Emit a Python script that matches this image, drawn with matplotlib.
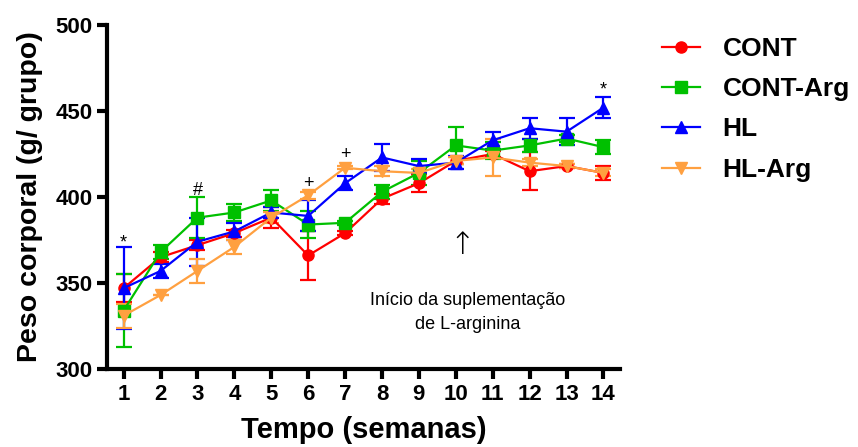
import numpy as np
import matplotlib.pyplot as plt
from matplotlib.lines import Line2D

plt.rcParams['font.family'] = ['Liberation Sans', 'DejaVu Sans']

semanas = np.arange(1, 15)

cont = [347, 365, 372, 379, 388, 366, 379, 399, 408, 421, 425, 415, 418, 414]
cont_err = [8, 3, 3, 2, 6, 14, 1, 3, 5, 2, 2, 11, 1, 4]

cont_arg = [334, 368, 388, 391, 398, 384, 385, 403, 414, 430, 427, 430, 434, 429]
cont_arg_err = [21, 4, 12, 5, 6, 8, 1, 4, 7, 11, 5, 4, 2, 4]

hl = [347, 357, 374, 380, 391, 389, 408, 423, 418, 420, 433, 440, 438, 452]
hl_err = [24, 4, 14, 5, 3, 9, 4, 8, 4, 4, 5, 6, 8, 6]

hl_arg = [331, 343, 357, 371, 388, 401, 417, 415, 414, 421, 423, 420, 418, 414]
hl_arg_err = [7, 0, 7, 4, 3, 2, 1, 3, 2, 2, 11, 2, 1, 2]

series = [
    ("CONT", cont, cont_err, "#FF0000", "o"),
    ("CONT-Arg", cont_arg, cont_arg_err, "#00C000", "s"),
    ("HL", hl, hl_err, "#0000FF", "^"),
    ("HL-Arg", hl_arg, hl_arg_err, "#FFA040", "v"),
]

# marcas de significancia
marcas = [(1, 373, "*"), (3, 404, "#"), (6, 408, "+"), (7, 425, "+"), (14, 462, "*")]

fig = plt.figure(figsize=(8.58, 4.47), dpi=100)
ax = fig.add_axes([0.1247, 0.1745, 0.598, 0.7695])

handles = []
for nome, y, e, cor, mk in series:
    ax.errorbar(semanas, y, yerr=e, color=cor, marker=mk, markersize=8,
                linewidth=1.6, elinewidth=1.6, capsize=6, capthick=1.6)
    handles.append(Line2D([], [], color=cor, marker=mk, markersize=8,
                          linewidth=1.6, label=nome))

for x, y, s in marcas:
    ax.text(x, y, s, ha="center", va="center", fontsize=13)

ax.text(10.16, 372, "↑", ha="center", va="center", fontsize=22,
        family=['DejaVu Sans'], fontweight="light")
ax.text(10.33, 333, "Início da suplementação\nde L-arginina", ha="center",
        va="center", fontsize=13, linespacing=1.55)

ax.set_xlim(0.55, 14.45)
ax.set_ylim(300, 500)
ax.set_xticks(semanas)
ax.set_yticks([300, 350, 400, 450, 500])
ax.spines["top"].set_visible(False)
ax.spines["right"].set_visible(False)
ax.spines["left"].set_linewidth(3)
ax.spines["bottom"].set_linewidth(3)
ax.tick_params(width=3, length=7, labelsize=16)
for lb in ax.get_xticklabels() + ax.get_yticklabels():
    lb.set_fontweight("bold")

ax.set_xlabel("Tempo (semanas)", fontsize=21, fontweight="bold", labelpad=8)
ax.set_ylabel("Peso corporal (g/ grupo)", fontsize=20.5, fontweight="bold",
              labelpad=9)

ax.legend(handles=handles, loc="upper left", bbox_to_anchor=(1.035, 1.035),
          frameon=False, prop={"weight": "bold", "size": 19},
          labelspacing=0.62, handlelength=1.45, handletextpad=0.85)

fig.savefig("out.png", dpi=100)
